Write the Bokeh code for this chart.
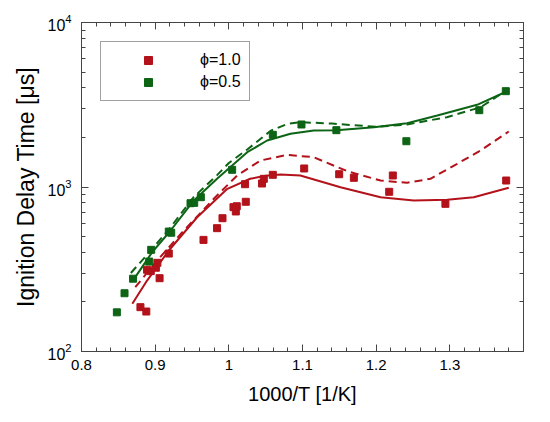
from bokeh.plotting import figure
from bokeh.models import (LogAxis, LinearAxis, SingleIntervalTicker, LogTicker,
                          CustomJSTickFormatter, Legend, LegendItem, Range1d)
from bokeh.embed import file_html
from bokeh.resources import INLINE

RED = "#b3121b"
GREEN = "#0c6414"

# Measured points, phi = 1.0
red_x = [0.880, 0.888, 0.889, 0.894, 0.901, 0.903, 0.906, 0.9185, 0.9656, 0.984,
         0.9914, 1.0063, 1.0095, 1.0108, 1.022, 1.023, 1.045, 1.0475, 1.0597,
         1.1023, 1.1498, 1.1697, 1.2177, 1.2226, 1.294, 1.3765]
red_y = [186, 175, 314, 308, 323, 346, 279, 394, 477, 562,
         646, 754, 710, 764, 1040, 813, 1050, 1121, 1186,
         1296, 1196, 1137, 935, 1175, 790, 1095]

# Measured points, phi = 0.5
green_x = [0.848, 0.8584, 0.870, 0.8919, 0.8946, 0.9185, 0.9218, 0.948, 0.953,
           0.962, 1.0045, 1.0597, 1.0986, 1.146, 1.241, 1.340, 1.376]
green_y = [173, 226, 277, 352, 415, 536, 527, 797, 801,
           867, 1272, 2076, 2399, 2215, 1898, 2931, 3825]

# Model curves
gs_x = [0.873, 0.896, 0.921, 0.9525, 0.984, 1.0045, 1.025, 1.052, 1.0837, 1.1153,
        1.146, 1.197, 1.242, 1.283, 1.337, 1.38]
gs_y = [283, 402, 544, 828, 1122, 1351, 1628, 1917, 2106, 2206,
        2215, 2310, 2443, 2721, 3160, 3861]

gd_x = [0.867, 0.896, 0.921, 0.9525, 0.984, 1.0, 1.025, 1.057, 1.08, 1.097,
        1.14, 1.2, 1.242, 1.296, 1.342, 1.38]
gd_y = [300, 420, 570, 870, 1180, 1400, 1690, 2200, 2420, 2478,
        2430, 2320, 2400, 2657, 3056, 3950]

rs_x = [0.869, 0.889, 0.9185, 0.957, 0.998, 1.029, 1.05, 1.07, 1.097, 1.1516,
        1.206, 1.251, 1.2964, 1.3325, 1.38]
rs_y = [195, 270, 411, 655, 975, 1122, 1170, 1191, 1175, 997,
        867, 828, 836, 867, 989]

rd_x = [0.873, 0.9027, 0.939, 0.9796, 1.0113, 1.043, 1.079, 1.115, 1.1607,
        1.206, 1.242, 1.2737, 1.31, 1.3416, 1.38]
rd_y = [246, 357, 544, 848, 1175, 1449, 1569, 1518, 1248,
        1095, 1061, 1122, 1384, 1667, 2175]

labels = ["\u03d5=1.0", "\u03d5=0.5"]

FONT = "Liberation Sans"

p = figure(width=550, height=422,
           y_axis_type="log", x_range=Range1d(0.8, 1.4), y_range=Range1d(100, 10000),
           output_backend="svg", toolbar_location=None,
           min_border_left=81, min_border_right=27, min_border_top=22, min_border_bottom=71)
p.xgrid.visible = False
p.ygrid.visible = False
p.outline_line_color = "#444444"
p.background_fill_color = "white"
p.border_fill_color = "white"

xt = SingleIntervalTicker(interval=0.1, num_minor_ticks=5)
fmt = CustomJSTickFormatter(code="var s = tick.toFixed(1); return s.endsWith('.0') ? s.slice(0, -2) : s;")

def style(ax, show_labels=True):
    ax.major_tick_in = 7
    ax.major_tick_out = 0
    ax.minor_tick_in = 4
    ax.minor_tick_out = 0
    ax.axis_line_color = "#444444"
    ax.major_tick_line_color = "#444444"
    ax.minor_tick_line_color = "#444444"
    ax.major_label_text_font = FONT
    ax.major_label_text_font_size = "15px"
    ax.major_label_text_color = "black"
    ax.axis_label_text_color = "black"
    if not show_labels:
        ax.major_label_text_font_size = "0px"
        ax.major_label_text_alpha = 0
        ax.major_label_standoff = 0

xa = p.xaxis[0]
xa.ticker = xt
xa.formatter = fmt
style(xa)
xa.major_label_standoff = 8
xa.axis_label = "1000/T [1/K]"
xa.axis_label_text_font = FONT
xa.axis_label_text_font_size = "20px"
xa.axis_label_text_font_style = "normal"
xa.axis_label_standoff = 10

ya = p.yaxis[0]
ya.ticker = LogTicker(num_minor_ticks=10)
style(ya)
ya.major_label_text_font_size = "16px"
ya.major_label_standoff = 10
ya.axis_label = "Ignition Delay Time [\u03bcs]"
ya.axis_label_text_font = FONT
ya.axis_label_text_font_size = "23px"
ya.axis_label_text_font_style = "normal"
ya.axis_label_standoff = 5

top = LinearAxis(ticker=SingleIntervalTicker(interval=0.1, num_minor_ticks=5))
style(top, False)
p.add_layout(top, "above")
right = LogAxis(ticker=LogTicker(num_minor_ticks=10),
                formatter=CustomJSTickFormatter(code="return '';"))
style(right, False)
p.add_layout(right, "right")

p.line(gs_x, gs_y, line_color=GREEN, line_width=2)
p.line(gd_x, gd_y, line_color=GREEN, line_width=2, line_dash="8 5")
p.line(rs_x, rs_y, line_color=RED, line_width=2)
p.line(rd_x, rd_y, line_color=RED, line_width=2, line_dash="8 5")

r1 = p.scatter(red_x, red_y, marker="square", size=7, fill_color=RED, line_color=RED)
r2 = p.scatter(green_x, green_y, marker="square", size=7, fill_color=GREEN, line_color=GREEN)

leg = Legend(items=[LegendItem(label=labels[0], renderers=[r1]),
                    LegendItem(label=labels[1], renderers=[r2])],
             location="top_left")
leg.margin = 19
leg.padding = 8
leg.glyph_width = 78
leg.glyph_height = 20
leg.label_height = 20
leg.label_standoff = 13
leg.spacing = 2
leg.label_text_font = FONT
leg.label_text_font_size = "16px"
leg.label_text_color = "black"
leg.border_line_color = "#444444"
leg.border_line_width = 1
leg.background_fill_color = "white"
p.add_layout(leg)

open("out.html", "w").write(file_html(p, INLINE))
